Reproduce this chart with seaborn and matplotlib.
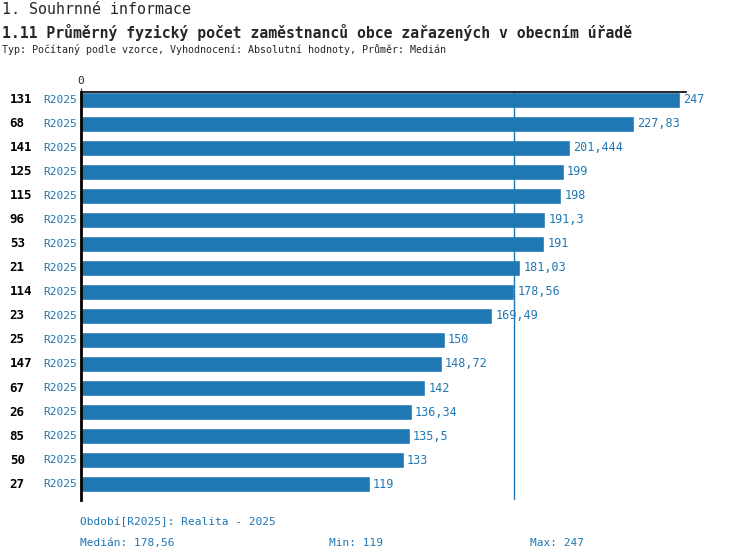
import pandas as pd
import matplotlib.pyplot as plt
import matplotlib.transforms as mtransforms
import seaborn as sns

ids = ["131", "68", "141", "125", "115", "96", "53", "21", "114", "23",
       "25", "147", "67", "26", "85", "50", "27"]
values = [247, 227.83, 201.444, 199, 198, 191.3, 191, 181.03, 178.56, 169.49,
          150, 148.72, 142, 136.34, 135.5, 133, 119]
period = "R2025"
median = 178.56

df = pd.DataFrame({"id": ids, "value": values})

blue = "#1f77b4"
mono = "DejaVu Sans Mono"

sns.set_style("white")
plt.rcParams["font.family"] = [mono, "DejaVu Sans"]

fig = plt.figure(figsize=(7.5, 5.6), dpi=100)
ax = fig.add_axes([0.108, 0.107, 0.807, 0.729])

sns.barplot(data=df, x="value", y="id", order=ids, color=blue, orient="h",
            width=0.66, saturation=1, ax=ax)

ax.set_xlim(0, 249.5)
ax.set_ylim(len(ids) - 1 + 0.667, -0.333)
ax.axvline(median, color=blue, lw=1)

for s in ["right", "bottom"]:
    ax.spines[s].set_visible(False)
ax.spines["left"].set_color("black")
ax.spines["left"].set_linewidth(2)
ax.spines["top"].set_color("black")
ax.spines["top"].set_linewidth(1.2)

ax.xaxis.tick_top()
ax.set_xticks([0])
ax.set_xticklabels(["0"], fontsize=8)
ax.tick_params(axis="x", length=3, pad=1)
ax.set_xlabel("")
ax.set_ylabel("")
ax.set_yticks([])

trans = mtransforms.blended_transform_factory(fig.transFigure, ax.transData)
for i, (lab, v) in enumerate(zip(ids, values)):
    ax.text(0.013, i, lab, transform=trans, ha="left", va="center",
            fontsize=9, fontweight="bold", color="black")
    ax.text(0.102, i, period, transform=trans, ha="right", va="center",
            fontsize=8, color=blue)
    ax.text(v + 1.3, i, f"{v:g}".replace(".", ","), ha="left", va="center",
            fontsize=8.5, color=blue)

fig.text(0.002, 0.997, "1. Souhrnné informace", fontsize=10.8, va="top")
fig.text(0.002, 0.958, "1.11 Průměrný fyzický počet zaměstnanců obce zařazených v obecním úřadě",
         fontsize=10.6, fontweight="bold", va="top")
fig.text(0.002, 0.921, "Typ: Počítaný podle vzorce, Vyhodnocení: Absolutní hodnoty, Průměr: Medián",
         fontsize=7.2, va="top")

fig.text(0.106, 0.068, "Období[R2025]: Realita - 2025", fontsize=8, color=blue, va="center")
fig.text(0.106, 0.031, "Medián: 178,56", fontsize=8, color=blue, va="center")
fig.text(0.439, 0.031, "Min: 119", fontsize=8, color=blue, va="center")
fig.text(0.706, 0.031, "Max: 247", fontsize=8, color=blue, va="center")

fig.savefig("out.png", dpi=100)
